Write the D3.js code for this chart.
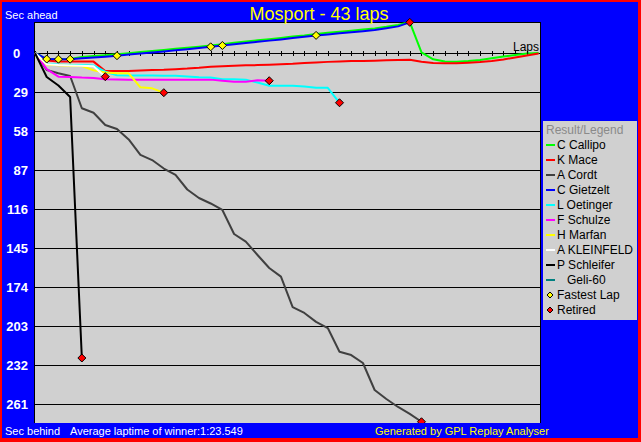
<!DOCTYPE html>
<html><head><meta charset="utf-8">
<script src="https://cdn.jsdelivr.net/npm/d3@7/dist/d3.min.js"></script>
<style>
html,body{margin:0;padding:0;background:#0000ff;overflow:hidden}
svg{display:block}
text{font-family:"Liberation Sans",Arial,sans-serif}
</style>
</head><body>
<svg id="c" width="641" height="442"></svg>
<script>
// ---------- data ----------
const title = "Mosport - 43 laps";
const totalLaps = 43;
const yTicks = [0, 29, 58, 87, 116, 145, 174, 203, 232, 261];
const drivers = ["C Callipo", "K Mace", "A Cordt", "C Gietzelt", "L Oetinger", "F Schulze", "H Marfan", "A KLEINFELD", "P Schleifer", "   Geli-60"];
const colors = ["#00ff00", "#ff0000", "#404040", "#0000ff", "#00ffff", "#ff00ff", "#ffff00", "#ffffff", "#000000", "#008080"];
// seconds behind reference, one value per lap from lap 0
const callipo = [0,4.5,4.6,4.4,3.0,2.3,1.6,0.9,0.1,-0.7,-1.5,-2.3,-3.1,-3.9,-4.7,-5.6,-6.6,-7.6,-8.5,-9.4,-10.3,-11.2,-12.2,-13.1,-14.2,-15.0,-15.8,-16.6,-17.4,-18.3,-19.5,-20.9,-23.0,-0.5,4.7,6.3,6.5,6.0,5.2,3.9,2.6,1.5,0.4,0];
const mace = [0,5.6,6.3,6.3,6.3,6.4,13.4,13.4,13.3,13.0,12.6,12.5,12.0,11.6,11.0,10.2,9.9,9.5,9.2,9.0,8.7,8.3,8.0,7.5,7.0,6.6,6.3,6.0,6.0,5.7,5.3,5.2,5.0,6.5,7.4,7.7,7.7,7.2,6.7,5.9,4.8,3.3,1.9,0.4];
const cordt = [0,12.6,15.1,17.1,41.1,44.4,53.5,56.5,64.3,75.8,79.6,85.9,90.7,101.5,107.8,111.9,116.7,134.6,140.3,150.2,159.9,166.3,188.9,193.3,199.9,204.5,222.1,224.6,230.5,250.6,257.3,263.2,268.4,274.2];
const gietzelt = [0,4.5,4.6,4.6,3.9,3.3,2.7,2.0,1.2,0.4,-0.4,-1.2,-2.0,-2.8,-3.7,-4.6,-5.6,-6.5,-7.4,-8.3,-9.2,-10.1,-11.1,-12.1,-13.1,-13.8,-14.6,-15.4,-16.2,-17.1,-18.4,-19.8,-22.8];
const oetinger = [0,8.0,8.6,8.9,9.0,9.3,13.9,16.5,16.8,16.8,16.8,16.9,17.0,17.5,18.1,18.3,19.6,19.6,19.8,22.0,24.3,24.3,24.3,25.0,25.8,25.9,37.0];
const schulze = [0,12.0,17.6,17.8,18.3,18.6,19.6,19.7,19.8,19.8,19.9,19.9,19.9,19.8,19.8,19.8,20.6,21.3,21.3,20.3,20.6];
const marfan = [0,8.5,9.2,9.5,9.7,12.8,14.5,15.0,15.1,25.5,26.3,29.5];
const kleinfeld = [0,8.3,9.0,9.3,9.5,9.9,17.6];
const schleifer = [0,17.8,24.2,32.7,226.8];
const geli = [];
const series = [callipo, mace, cordt, gietzelt, oetinger, schulze, marfan, kleinfeld, schleifer, geli];
// fastest-lap markers: laps on C Gietzelt's line
const fastestLapDriver = 3;
const fastestLaps = [1, 2, 3, 7, 15, 16, 24];
const footLeft1 = "Sec behind";
const footLeft2 = "Average laptime of winner:1:23.549";
const footRight = "Generated by GPL Replay Analyser";

// ---------- layout ----------
const W = 641, H = 442;
const svg = d3.select("#c");
const plot = {l: 34, t: 22, r: 540, b: 423};
const x = d3.scaleLinear().domain([0, totalLaps]).range([35, 538.6]);
const y = d3.scaleLinear().domain([0, 261]).range([53, 404]);
const gray = "#d0d0d0";

// frame
svg.append("rect").attr("width", W).attr("height", H).attr("fill", "#ff0000");
svg.append("rect").attr("x", 2).attr("y", 2).attr("width", 636).attr("height", 436).attr("fill", "#0000ff");

// plot background
svg.append("rect").attr("x", plot.l).attr("y", plot.t)
  .attr("width", plot.r - plot.l + 1).attr("height", plot.b - plot.t).attr("fill", gray);

// grid lines
const grid = svg.append("g").attr("transform", `translate(35,0)`)
  .call(d3.axisRight(y).tickValues(yTicks).tickSize(plot.r - 35).tickFormat(""));
grid.select(".domain").remove();
grid.selectAll("line").attr("stroke", "#000").attr("shape-rendering", "crispEdges");

// lap ticks on zero line
const xa = svg.append("g").attr("transform", `translate(0,${y(0) - 2})`)
  .call(d3.axisBottom(x).tickValues(d3.range(0, totalLaps)).tickSize(5).tickFormat(""));
xa.select(".domain").remove();
xa.selectAll("line").attr("stroke", "#000").attr("shape-rendering", "crispEdges");

// plot border (left, top, right)
svg.append("path").attr("d", `M${plot.l + 0.5},${plot.b} V${plot.t + 0.5} H${plot.r + 0.5} V${plot.b}`)
  .attr("fill", "none").attr("stroke", "#000").attr("shape-rendering", "crispEdges");

// y labels
const ya = svg.append("g").attr("transform", "translate(28,0)")
  .call(d3.axisLeft(y).tickValues(yTicks).tickSize(0).tickPadding(0));
ya.select(".domain").remove();
ya.selectAll("text").attr("fill", "#fff").attr("font-weight", "bold")
  .attr("font-size", 13).style("font-family", '"Liberation Sans",Arial,sans-serif')
  .attr("dy", "0.38em");
ya.selectAll(".tick").filter(d => d === 0).select("text")
  .attr("text-anchor", "start").attr("x", -15);

// clip for marks
svg.append("clipPath").attr("id", "clip").append("rect")
  .attr("x", 0).attr("y", 0).attr("width", W).attr("height", plot.b);

const marks = svg.append("g").attr("clip-path", "url(#clip)");
const line = d3.line().x((d, i) => x(i)).y(d => y(d));
series.forEach((s, i) => {
  if (s.length < 2) return;
  marks.append("path").attr("d", line(s)).attr("fill", "none")
    .attr("stroke", colors[i]).attr("stroke-width", 2).attr("stroke-linejoin", "round");
});

const diamond = (r) => `M0,${-r}L${r},0L0,${r}L${-r},0Z`;
// fastest laps
fastestLaps.forEach(l => {
  marks.append("path").attr("d", diamond(4))
    .attr("transform", `translate(${x(l)},${y(series[fastestLapDriver][l])})`)
    .attr("fill", "#ffff00").attr("stroke", "#000").attr("stroke-width", 1);
});
// retired
series.forEach(s => {
  if (s.length < 2 || s.length > totalLaps) return;
  const l = s.length - 1;
  marks.append("path").attr("d", diamond(4))
    .attr("transform", `translate(${x(l)},${y(s[l])})`)
    .attr("fill", "#ff0000").attr("stroke", "#000").attr("stroke-width", 1);
});

// texts
svg.append("text").attr("x", 5).attr("y", 19).attr("fill", "#fff").attr("font-size", 11).text("Sec ahead");
svg.append("text").attr("x", 319).attr("y", 20).attr("fill", "#ffff00").attr("font-size", 18)
  .attr("text-anchor", "middle").text(title);
svg.append("text").attr("x", 539).attr("y", 51).attr("fill", "#000").attr("font-size", 12)
  .attr("text-anchor", "end").text("Laps");
svg.append("text").attr("x", 5).attr("y", 435).attr("fill", "#fff").attr("font-size", 11).text(footLeft1);
svg.append("text").attr("x", 70).attr("y", 435).attr("fill", "#fff").attr("font-size", 11).text(footLeft2);
svg.append("text").attr("x", 375).attr("y", 435).attr("fill", "#ffff00").attr("font-size", 11).text(footRight);

// legend
const lg = svg.append("g");
lg.append("rect").attr("x", 543).attr("y", 121).attr("width", 94).attr("height", 199).attr("fill", gray);
lg.append("text").attr("x", 546).attr("y", 134).attr("fill", "#8a8a8a").attr("font-size", 12).text("Result/Legend");
const items = drivers.map((d, i) => ({label: d, color: colors[i], type: "line"}))
  .concat([{label: "Fastest Lap", color: "#ffff00", type: "dot"}, {label: "Retired", color: "#ff0000", type: "dot"}]);
items.forEach((it, i) => {
  const by = 149 + 15 * i;
  if (it.type === "line") {
    lg.append("line").attr("x1", 546).attr("x2", 555).attr("y1", by - 4).attr("y2", by - 4)
      .attr("stroke", it.color).attr("stroke-width", 2);
  } else {
    lg.append("path").attr("d", diamond(3)).attr("transform", `translate(550,${by - 4})`)
      .attr("fill", it.color).attr("stroke", "#000").attr("stroke-width", 1);
  }
  lg.append("text").attr("x", 557).attr("y", by).attr("fill", "#000").attr("font-size", 12)
    .style("white-space", "pre").text(it.label);
});
</script>
</body></html>
